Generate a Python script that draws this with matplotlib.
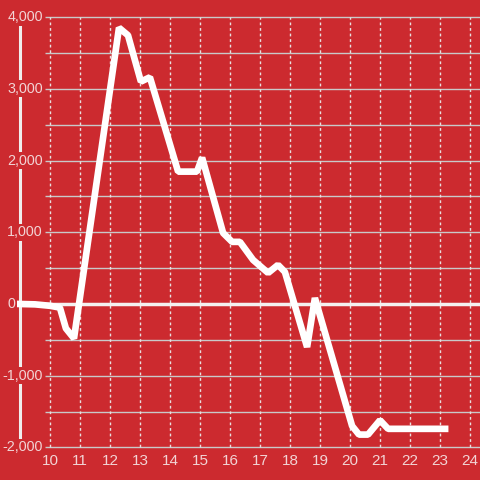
import matplotlib
matplotlib.use("Agg")
import matplotlib.pyplot as plt
import matplotlib.transforms as mtransforms

# ---- data ----
x_vals = [9.0, 9.5, 10.0, 10.33, 10.53, 10.8, 12.3, 12.6, 13.03, 13.33, 14.27, 14.9,
          15.07, 15.77, 16.07, 16.33, 16.77, 17.27, 17.6, 17.83, 18.57, 18.83,
          20.07, 20.3, 20.6, 21.0, 21.27, 23.17]
y_vals = [0, -5, -25, -50, -340, -480, 3850, 3745, 3100, 3160, 1845, 1845,
          2040, 990, 866, 866, 614, 433, 545, 447, -600, 84,
          -1700, -1820, -1820, -1620, -1740, -1740]
x_ticks = list(range(10, 25))
x_tick_labels = [str(v) for v in x_ticks]
y_ticks = [4000, 3000, 2000, 1000, 0, -1000, -2000]
y_tick_labels = ["4,000", "3,000", "2,000", "1,000", "0", "-1,000", "-2,000"]
y_grid = [4000, 3500, 3000, 2500, 2000, 1500, 1000, 500, -500, -1000, -1500, -2000]

BG = "#cc2a2f"
TXT = "#f2d4d5"
GRID = "#c9c9c9"

plt.rcParams['font.family'] = ['Liberation Sans', 'DejaVu Sans']

fig = plt.figure(figsize=(4.8, 4.8), dpi=100)
fig.patch.set_facecolor(BG)
ax = fig.add_axes([0, 0, 1, 1])
ax.set_facecolor(BG)
ax.set_xlim(8.3333, 24.3333)
ax.set_ylim(-2453, 4237)
for s in ax.spines.values():
    s.set_visible(False)
ax.set_xticks([])
ax.set_yticks([])

# horizontal grid
ax.hlines(y_grid, 9.833, 24.3333, colors=GRID, linewidth=1.0, zorder=1)
# vertical dotted grid
ax.vlines(x_ticks, -2000, 4000, colors="#e8e0e0", linewidth=1.0,
          linestyles=(0, (2, 2)), zorder=1)
# zero line
ax.hlines([0], 9.833, 24.3333, colors="#f4f0f0", linewidth=2.5, zorder=2)
# y axis line spanning data range
ax.vlines([9.0], min(y_vals) - 100, max(y_vals) + 50, colors="#f0eded",
          linewidth=2.2, zorder=2)

# data line
ax.plot(x_vals, y_vals, color="white", linewidth=4.8, solid_joinstyle="bevel",
        solid_capstyle="projecting", zorder=4)

# y labels
ytrans = mtransforms.blended_transform_factory(ax.transAxes, ax.transData)
for v, lab in zip(y_ticks, y_tick_labels):
    xr = 15 if v == 0 else 43
    ax.text(xr / 480, v, lab, transform=ytrans, ha="right", va="center",
            fontsize=10.3, color=TXT, zorder=5,
            bbox=dict(facecolor=BG, edgecolor="none", pad=1.2))

# x labels
xtrans = mtransforms.blended_transform_factory(ax.transData, ax.transAxes)
for v, lab in zip(x_ticks, x_tick_labels):
    ax.text(v, 1 - 461 / 480, lab, transform=xtrans, ha="center", va="center",
            fontsize=11, color=TXT, zorder=5)

fig.savefig("out.png", dpi=100, facecolor=BG)
